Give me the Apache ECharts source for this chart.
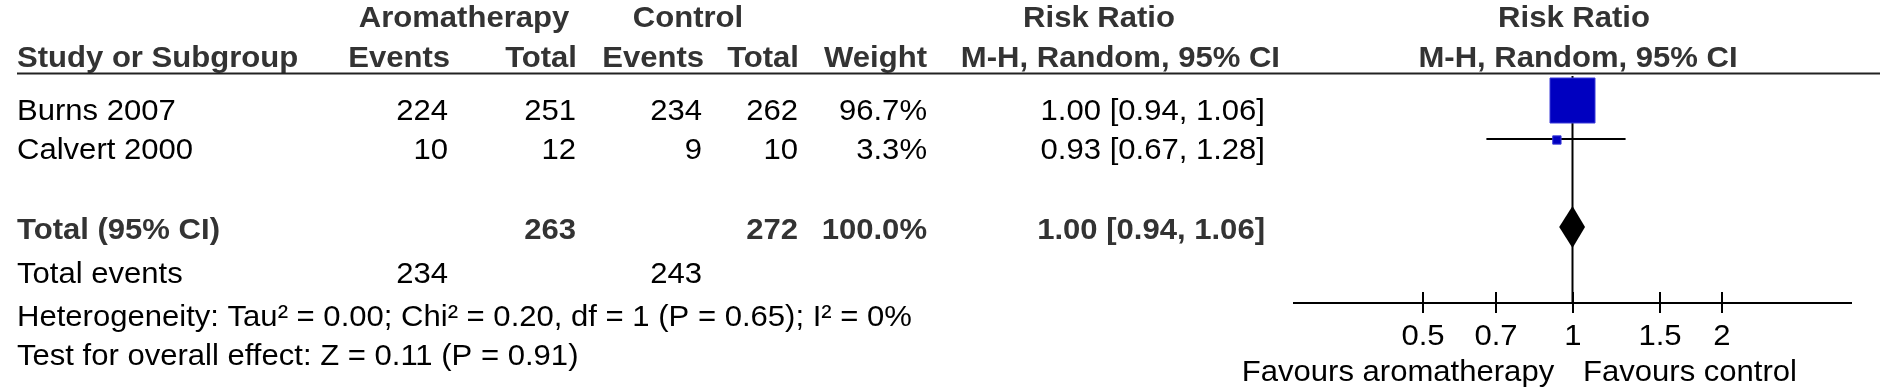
<!DOCTYPE html>
<html>
<head>
<meta charset="utf-8">
<script src="https://cdn.jsdelivr.net/npm/echarts@6/dist/echarts.min.js"></script>
<style>
  html, body { margin: 0; padding: 0; background: #fff; }
  #chart { width: 1880px; height: 392px; }
</style>
</head>
<body>
<div id="chart"></div>
<script>
// study rows
const studies = ['Burns 2007', 'Calvert 2000'];
const aromaEvents = [224, 10];
const aromaTotal = [251, 12];
const ctrlEvents = [234, 9];
const ctrlTotal = [262, 10];
const weights = [96.7, 3.3];
const riskRatio = [1.0, 0.93];
const ciLow = [0.94, 0.67];
const ciHigh = [1.06, 1.28];

// pooled result
const pooledRR = [1.0, 0.94, 1.06];
const pooledTotals = [263, 272];
const pooledEvents = [234, 243];
const heterogeneity = 'Heterogeneity: Tau\u00b2 = 0.00; Chi\u00b2 = 0.20, df = 1 (P = 0.65); I\u00b2 = 0%';
const overallEffect = 'Test for overall effect: Z = 0.11 (P = 0.91)';

// axis
const tickValues = [0.5, 0.7, 1, 1.5, 2];
const tickLabels = ['0.5', '0.7', '1', '1.5', '2'];

// layout (pixels)
const FONT = '"Liberation Sans", Arial, sans-serif';
const SIZE = 30;
const STRETCH = 1.035; // source figure is slightly wider than tall
const textRowY = [112, 151];
const plotRowY = [100.5, 140];
const totalY = 231;
const diamondY = 227;
const axisY = 303;
const colRight = [448, 576, 702, 798, 927, 1265];

const fmt = v => v.toFixed(2);

function txt(x, y, text, align, bold) {
  return {
    type: 'text',
    x: x,
    y: y,
    scaleX: STRETCH,
    silent: true,
    style: {
      text: text,
      fontFamily: FONT,
      fontSize: SIZE,
      fontWeight: bold ? 'bold' : 'normal',
      fill: bold ? '#333' : '#000',
      align: align,
      verticalAlign: 'middle'
    }
  };
}

const graphic = [
  txt(464, 19, 'Aromatherapy', 'center', true),
  txt(688, 19, 'Control', 'center', true),
  txt(1099, 19, 'Risk Ratio', 'center', true),
  txt(1574, 19, 'Risk Ratio', 'center', true),
  txt(17, 59, 'Study or Subgroup', 'left', true),
  txt(colRight[0] + 2, 59, 'Events', 'right', true),
  txt(colRight[1] + 1, 59, 'Total', 'right', true),
  txt(colRight[2] + 2, 59, 'Events', 'right', true),
  txt(colRight[3] + 1, 59, 'Total', 'right', true),
  txt(colRight[4], 59, 'Weight', 'right', true),
  txt(1280, 59, 'M-H, Random, 95% CI', 'right', true),
  txt(1578, 59, 'M-H, Random, 95% CI', 'center', true),
  {
    type: 'line',
    silent: true,
    shape: { x1: 17, y1: 73.5, x2: 1880, y2: 73.5 },
    style: { stroke: '#222', lineWidth: 2 }
  }
];

studies.forEach((name, i) => {
  const y = textRowY[i];
  graphic.push(
    txt(17, y, name, 'left', false),
    txt(colRight[0], y, String(aromaEvents[i]), 'right', false),
    txt(colRight[1], y, String(aromaTotal[i]), 'right', false),
    txt(colRight[2], y, String(ctrlEvents[i]), 'right', false),
    txt(colRight[3], y, String(ctrlTotal[i]), 'right', false),
    txt(colRight[4], y, weights[i].toFixed(1) + '%', 'right', false),
    txt(colRight[5], y, fmt(riskRatio[i]) + ' [' + fmt(ciLow[i]) + ', ' + fmt(ciHigh[i]) + ']', 'right', false)
  );
});

graphic.push(
  txt(17, totalY, 'Total (95% CI)', 'left', true),
  txt(colRight[1], totalY, String(pooledTotals[0]), 'right', true),
  txt(colRight[3], totalY, String(pooledTotals[1]), 'right', true),
  txt(colRight[4], totalY, '100.0%', 'right', true),
  txt(colRight[5], totalY, fmt(pooledRR[0]) + ' [' + fmt(pooledRR[1]) + ', ' + fmt(pooledRR[2]) + ']', 'right', true),
  txt(17, 275, 'Total events', 'left', false),
  txt(colRight[0], 275, String(pooledEvents[0]), 'right', false),
  txt(colRight[2], 275, String(pooledEvents[1]), 'right', false),
  txt(17, 318, heterogeneity, 'left', false),
  txt(17, 357, overallEffect, 'left', false),
  txt(1398, 373, 'Favours aromatherapy', 'center', false),
  txt(1690, 373, 'Favours control', 'center', false)
);

const chart = echarts.init(document.getElementById('chart'), null, { renderer: 'canvas' });

const option = {
  animation: false,
  backgroundColor: '#fff',
  grid: { left: 1293, right: 28, top: 0, bottom: 0 },
  xAxis: {
    type: 'log',
    logBase: Math.E,
    min: Math.exp(-1.3),
    max: Math.exp(1.3),
    show: false
  },
  yAxis: {
    type: 'value',
    min: 0,
    max: 392,
    inverse: true,
    show: false
  },
  graphic: graphic,
  series: [
    {
      // line of no effect + horizontal axis
      type: 'custom',
      z: 2,
      data: [[1]],
      renderItem(params, api) {
        const top = api.coord([api.value(0), 76]);
        const bottom = api.coord([api.value(0), axisY]);
        const left = api.coord([Math.exp(-1.3), axisY]);
        const right = api.coord([Math.exp(1.3), axisY]);
        return {
          type: 'group',
          children: [
            {
              type: 'line',
              shape: { x1: top[0], y1: top[1], x2: bottom[0], y2: bottom[1] },
              style: { stroke: '#000', lineWidth: 2 }
            },
            {
              type: 'line',
              shape: { x1: left[0], y1: left[1], x2: right[0], y2: right[1] },
              style: { stroke: '#000', lineWidth: 2 }
            }
          ]
        };
      }
    },
    {
      // ticks and their labels
      type: 'custom',
      z: 2,
      data: tickValues.map((v, i) => [v, i]),
      renderItem(params, api) {
        const p = api.coord([api.value(0), axisY]);
        const x = Math.round(p[0]);
        return {
          type: 'group',
          children: [
            {
              type: 'line',
              shape: { x1: x, y1: p[1] - 11, x2: x, y2: p[1] + 10 },
              style: { stroke: '#000', lineWidth: 2 }
            },
            {
              type: 'text',
              x: x,
              y: 337,
              scaleX: STRETCH,
              style: {
                text: tickLabels[api.value(1)],
                fontFamily: FONT,
                fontSize: SIZE,
                fill: '#000',
                align: 'center',
                verticalAlign: 'middle'
              }
            }
          ]
        };
      }
    },
    {
      // study confidence intervals and weight squares
      type: 'custom',
      z: 3,
      data: studies.map((s, i) => [riskRatio[i], ciLow[i], ciHigh[i], weights[i], i]),
      renderItem(params, api) {
        const i = api.value(4);
        const y = plotRowY[i];
        const est = api.coord([api.value(0), y]);
        const lo = api.coord([api.value(1), y]);
        const hi = api.coord([api.value(2), y]);
        const side = 45 * Math.sqrt(api.value(3) / weights[0]);
        return {
          type: 'group',
          children: [
            {
              type: 'line',
              shape: { x1: lo[0], y1: y - 1, x2: hi[0], y2: y - 1 },
              style: { stroke: '#000', lineWidth: 2 }
            },
            {
              type: 'rect',
              shape: { x: est[0] - side / 2, y: est[1] - side / 2, width: side, height: side },
              style: { fill: '#0000c0', stroke: '#3a3ad8', lineWidth: 1 }
            }
          ]
        };
      }
    },
    {
      // pooled diamond
      type: 'custom',
      z: 3,
      data: [pooledRR],
      renderItem(params, api) {
        const c = api.coord([api.value(0), diamondY]);
        const lo = api.coord([api.value(1), diamondY]);
        const hi = api.coord([api.value(2), diamondY]);
        return {
          type: 'polygon',
          shape: { points: [[lo[0], c[1]], [c[0], c[1] - 21], [hi[0], c[1]], [c[0], c[1] + 21]] },
          style: { fill: '#000' }
        };
      }
    }
  ]
};

chart.setOption(option);
</script>
</body>
</html>
